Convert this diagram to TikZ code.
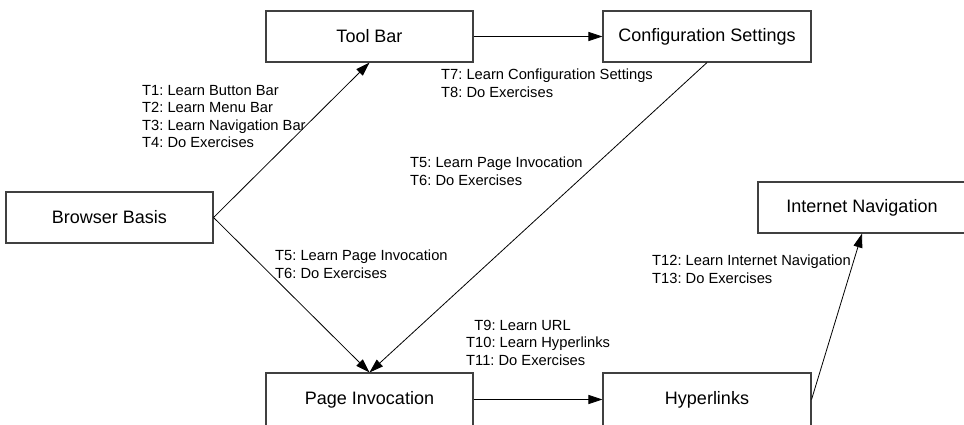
\documentclass[tikz,border=0pt]{standalone}
\usepackage{fontspec}
\setmainfont{Liberation Sans}
\frenchspacing
\usetikzlibrary{arrows.meta}
\begin{document}
\begin{tikzpicture}[x=1pt,y=-1pt,
  box/.style={draw=black!75,line width=1.1pt,minimum width=207pt,minimum height=51pt,inner sep=0pt,font=\fontsize{18}{21}\selectfont},
  lbl/.style={anchor=north west,inner sep=0pt,align=left,font=\fontsize{14.7}{17.5}\selectfont},
  conn/.style={draw=black,line width=0.8pt,-{Triangle[length=14pt,width=9pt]}}]
\useasboundingbox (0,0) rectangle (964,424);
\node[box] (toolbar) at (369.5,36.5) {Tool Bar};
\node[box,minimum width=208pt] (config) at (707,36.5) {Configuration Settings};
\node[box] (browser) at (109.5,217.5) {Browser Basis};
\node[box,minimum height=53pt] (page) at (369.5,399.5) {Page Invocation};
\node[box,minimum width=208pt,minimum height=53pt] (hyper) at (707,399.5) {Hyperlinks};
\node[box,minimum width=208pt] (internet) at (862,207.5) {Internet Navigation};
\draw[conn] (toolbar.east) -- (config.west);
\draw[conn] (browser.east) -- (toolbar.south);
\draw[conn] (browser.east) -- (page.north);
\draw[conn] (config.south) -- (page.north);
\draw[conn] (page.east) -- (hyper.west);
\draw[conn] (hyper.east) -- (internet.south);
\node[lbl] (l1) at (142,85) {T1: Learn Button Bar\\T2: Learn Menu Bar\\T3: Learn Navigation Bar\\T4: Do Exercises};
\node[lbl] (l2) at (441,69) {T7: Learn Configuration Settings\\T8: Do Exercises};
\node[lbl] (l3) at (410,157) {T5: Learn Page Invocation\\T6: Do Exercises};
\node[lbl] (l4) at (275,250) {T5: Learn Page Invocation\\T6: Do Exercises};
\node[lbl] (l5) at (466,320) {\phantom{1}T9: Learn URL\\T10: Learn Hyperlinks\\T11: Do Exercises};
\node[lbl] (l6) at (652,255) {T12: Learn Internet Navigation\\T13: Do Exercises};
\end{tikzpicture}
\end{document}
